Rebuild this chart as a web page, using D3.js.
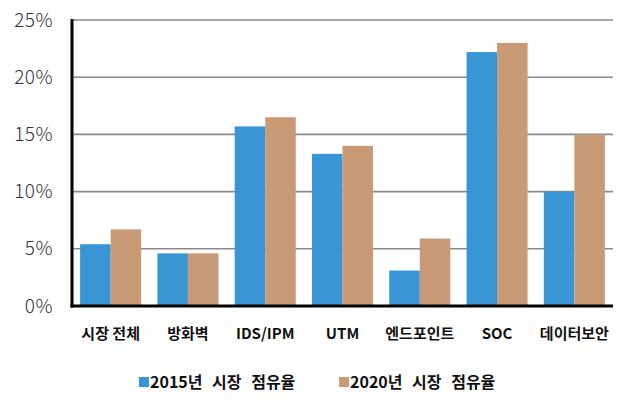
<!DOCTYPE html>
<html><head><meta charset="utf-8">
<script src="https://cdn.jsdelivr.net/npm/d3@7"></script>
<style>body{margin:0;background:#fff;} svg{display:block;}</style>
</head><body>
<script>
const categories = ["시장 전체","방화벽","IDS/IPM","UTM","엔드포인트","SOC","데이터보안"];
const series2015 = [5.4,4.6,15.7,13.3,3.1,22.2,10.0];
const series2020 = [6.7,4.6,16.5,14.0,5.9,23.0,15.0];
const seriesNames = ["2015년 시장 점유율","2020년 시장 점유율"];
const yTicks = [0,5,10,15,20,25];
const colors = ["#3a95d5","#c99a76"];

(function(){
const W=642,H=402;
const svg=d3.select("body").append("svg").attr("width",W).attr("height",H);
const mL=72,mR=613,mT=20,mB=306;
const x=d3.scaleBand().domain(categories).range([mL,mR]).paddingInner(0.21).paddingOuter(0.105);
const xs=d3.scaleBand().domain([0,1]).range([0,x.bandwidth()]);
const y=d3.scaleLinear().domain([0,25]).range([mB,mT]);

svg.append("g").selectAll("line").data(yTicks.filter(d=>d>0)).join("line")
 .attr("x1",mL).attr("x2",mR).attr("y1",d=>y(d)).attr("y2",d=>y(d))
 .attr("stroke","#8a8a8a").attr("stroke-width",1.6);

const data=categories.map((c,i)=>({c,v:[series2015[i],series2020[i]]}));
const g=svg.append("g");
data.forEach(d=>{
  d.v.forEach((v,j)=>{
    g.append("rect").attr("x",x(d.c)+xs(j)).attr("width",xs.bandwidth())
     .attr("y",y(v)).attr("height",y(0)-y(v)).attr("fill",colors[j]);
  });
});

const yAxis=d3.axisLeft(y).tickValues(yTicks).tickFormat(d=>d+"%").tickSize(0).tickPadding(19);
const ya=svg.append("g").attr("transform",`translate(${mL},0)`).call(yAxis);
ya.select(".domain").remove();
ya.selectAll("text").attr("font-family","'Noto Sans CJK KR','Noto Sans',sans-serif").attr("font-weight",300)
 .attr("font-size",19).attr("fill","#333").attr("letter-spacing",0.5);
svg.append("line").attr("x1",mL).attr("x2",mL).attr("y1",mT-1).attr("y2",mB+1.5).attr("stroke","#000").attr("stroke-width",3);
svg.append("line").attr("x1",mL-1.5).attr("x2",mR).attr("y1",mB).attr("y2",mB).attr("stroke","#000").attr("stroke-width",3);

const xAxis=d3.axisBottom(x).tickSize(0).tickPadding(22);
const xa=svg.append("g").attr("transform",`translate(0,${mB})`).call(xAxis);
xa.select(".domain").remove();
xa.selectAll("text").attr("font-family","'Noto Sans CJK KR','Noto Sans',sans-serif").attr("font-weight",700)
 .attr("font-size",15).attr("fill","#111");

const leg=svg.append("g");
const lx=[139,339];
seriesNames.forEach((n,i)=>{
  leg.append("rect").attr("x",lx[i]).attr("y",377).attr("width",10).attr("height",10).attr("fill",colors[i]);
  leg.append("text").attr("x",lx[i]+11).attr("y",388).text(n)
   .attr("font-family","'Noto Sans CJK KR','Noto Sans',sans-serif").attr("font-weight",700)
   .attr("font-size",16).attr("fill","#111").attr("word-spacing",6);
});
})();
</script>
</body></html>
